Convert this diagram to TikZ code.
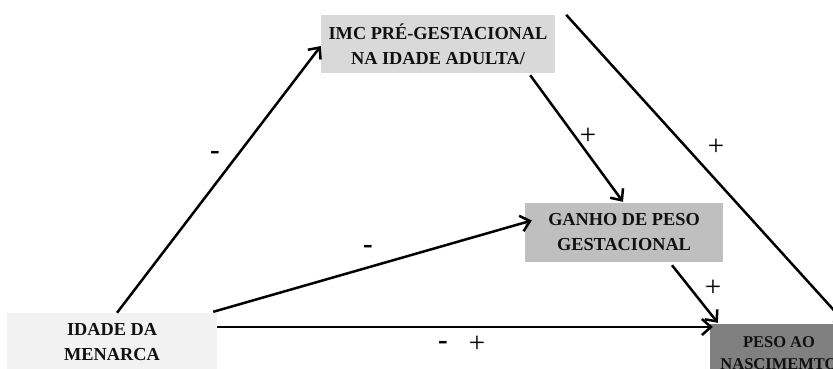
\documentclass[tikz,border=0pt]{standalone}
\usepackage{fontspec}
\setmainfont{Liberation Serif}
\usetikzlibrary{arrows.meta,calc}
\definecolor{boxA}{HTML}{D9D9D9}
\definecolor{boxB}{HTML}{BFBFBF}
\definecolor{boxC}{HTML}{808080}
\definecolor{boxD}{HTML}{F2F2F2}
\definecolor{txt}{HTML}{111111}
\tikzset{
  box/.style={rectangle, draw=none, inner sep=0pt, align=center, text=txt,
    font=\bfseries\fontsize{18.3}{25}\selectfont},
  conn/.style={line width=2.5pt, draw=black, -{Straight Barb[length=9pt,width=16pt]}},
  sign/.style={inner sep=0pt, text=black, font=\fontsize{29}{30}\selectfont},
  minus/.style={inner sep=0pt, text=black, font=\bfseries\fontsize{29}{30}\selectfont}
}
\begin{document}
\begin{tikzpicture}[x=1pt,y=-1pt]
\useasboundingbox (0,0) rectangle (833,368);
\clip (0,0) rectangle (833,368);
\fill[white] (0,0) rectangle (833,368);

\node[box, fill=boxA, minimum width=234pt, minimum height=58pt] (imc) at (438,44)
  {IMC PRÉ-GESTACIONAL\\NA IDADE ADULTA/};
\node[box, fill=boxB, minimum width=198pt, minimum height=59pt] (ganho) at (624,232.5)
  {GANHO DE PESO\\GESTACIONAL};
\node[box, fill=boxD, minimum width=210pt, minimum height=58pt] (idade) at (112,342)
  {IDADE DA\\MENARCA};
\node[box, fill=boxC, minimum width=138pt, minimum height=58pt,
  font=\bfseries\fontsize{16.5}{22}\selectfont] (peso) at (779,353)
  {PESO AO\\NASCIMEMTO};

\draw[conn] ($(idade.north)+(5,0)$) -- ($(imc.west)+(0,2)$);
\draw[conn] ($(idade.north east)+(-4,-1)$) -- ($(ganho.west)+(7,-12)$);
\draw[conn] ($(idade.east)+(0,-15)$) -- ($(peso.west)+(3,-26)$);
\draw[conn] ($(imc.south east)+(-25,2)$) -- ($(ganho.north)+(-1,-1)$);
\draw[conn] ($(imc.north east)+(11,0)$) -- ($(peso.north east)+(-2,0)$);
\draw[conn] ($(ganho.south)+(48,3)$) -- ($(peso.north west)+(8,-1)$);

\node[minus] (m1) at (215,155) {-};
\node[minus] (m2) at (368,249) {-};
\node[minus] (m3) at (443,345) {-};
\node[sign] (p3) at (477,344) {+};
\node[sign] (p1) at (588,136) {+};
\node[sign] (p2) at (716,147) {+};
\node[sign] (p4) at (713,288) {+};
\end{tikzpicture}
\end{document}
